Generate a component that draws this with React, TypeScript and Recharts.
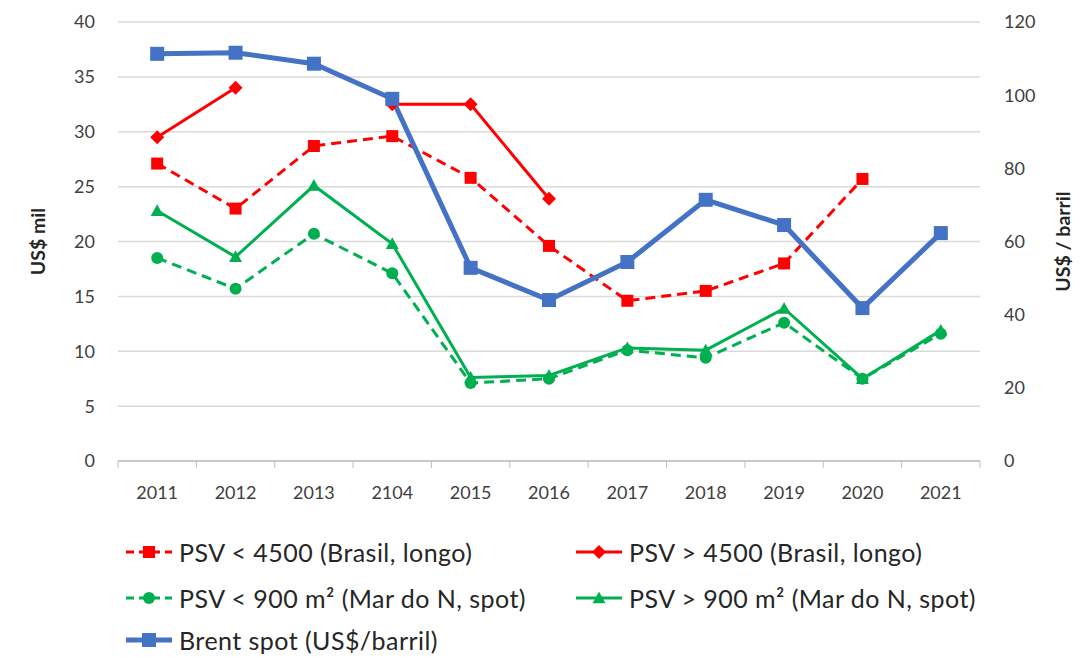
import { LineChart, Line, XAxis, YAxis, CartesianGrid, Legend } from 'recharts';

const years = ['2011', '2012', '2013', '2104', '2015', '2016', '2017', '2018', '2019', '2020', '2021'];
const psvSmallBrasil = [27.1, 23.0, 28.7, 29.6, 25.8, 19.6, 14.6, 15.5, 18.0, 25.7, null];
const psvLargeBrasil = [29.5, 34.0, null, 32.5, 32.5, 23.9, null, null, null, null, null];
const psvSmallNorth = [18.5, 15.7, 20.7, 17.1, 7.1, 7.5, 10.1, 9.4, 12.6, 7.5, 11.6];
const psvLargeNorth = [22.8, 18.6, 25.1, 19.8, 7.6, 7.8, 10.3, 10.1, 13.9, 7.5, 11.9];
const brent = [111.3, 111.6, 108.6, 99.0, 52.8, 44.0, 54.4, 71.4, 64.5, 41.8, 62.3];

const leftTicks = [0, 5, 10, 15, 20, 25, 30, 35, 40];
const rightTicks = [0, 20, 40, 60, 80, 100, 120];

const RED = '#FF0000';
const GREEN = '#00B050';
const BLUE = '#4472C4';
const FONT = 'Lato, "Noto Sans", sans-serif';

const data = years.map((year, i) => ({
  year,
  psvSmallBrasil: psvSmallBrasil[i],
  psvLargeBrasil: psvLargeBrasil[i],
  psvSmallNorth: psvSmallNorth[i],
  psvLargeNorth: psvLargeNorth[i],
  brent: brent[i],
}));

const series = [
  { key: 'psvSmallBrasil', name: 'PSV < 4500 (Brasil, longo)', color: RED, dashed: true, shape: 'square', width: 3, size: 12 },
  { key: 'psvLargeBrasil', name: 'PSV > 4500 (Brasil, longo)', color: RED, dashed: false, shape: 'diamond', width: 3, size: 14 },
  { key: 'psvSmallNorth', name: 'PSV < 900 m² (Mar do N, spot)', color: GREEN, dashed: true, shape: 'circle', width: 3, size: 12 },
  { key: 'psvLargeNorth', name: 'PSV > 900 m² (Mar do N, spot)', color: GREEN, dashed: false, shape: 'triangle', width: 3, size: 13 },
  { key: 'brent', name: 'Brent spot (US$/barril)', color: BLUE, dashed: false, shape: 'square', width: 5, size: 14 },
];

const CHART_W = 1083;
const CHART_H = 658;
const PLOT_LEFT = 118;
const PLOT_RIGHT = 980;
const STEP = (PLOT_RIGHT - PLOT_LEFT) / years.length;

function markerShape(shape: string, cx: number, cy: number, size: number, color: string) {
  const h = size / 2;
  if (shape === 'square') return <rect x={cx - h} y={cy - h} width={size} height={size} fill={color} />;
  if (shape === 'diamond')
    return <polygon points={`${cx},${cy - h} ${cx + h},${cy} ${cx},${cy + h} ${cx - h},${cy}`} fill={color} />;
  if (shape === 'circle') return <circle cx={cx} cy={cy} r={h} fill={color} />;
  return <polygon points={`${cx},${cy - h} ${cx + h},${cy + h * 0.8} ${cx - h},${cy + h * 0.8}`} fill={color} />;
}

const makeDot = (shape: string, size: number, color: string) => (props: any) => {
  const { cx, cy, index, value } = props;
  if (cx == null || cy == null || value == null) return <g key={`e-${index}`} />;
  return <g key={`d-${index}`}>{markerShape(shape, cx, cy, size, color)}</g>;
};

const YearTick = (props: any) => {
  const { x, y, payload, index } = props;
  const edge = x - STEP / 2;
  return (
    <g>
      <line x1={edge} y1={y - 8} x2={edge} y2={y - 1} stroke="#BFBFBF" />
      {index === years.length - 1 && (
        <line x1={x + STEP / 2} y1={y - 8} x2={x + STEP / 2} y2={y - 1} stroke="#BFBFBF" />
      )}
      <text x={x} y={y + 30} textAnchor="middle" fontSize={18} fill="#404040" fontFamily={FONT}>
        {payload.value}
      </text>
    </g>
  );
};

// legend sample: short line, marker, short line (dashed ones look like "-■-")
const LegendIcon = ({ s }: { s: (typeof series)[number] }) => (
  <svg width={52} height={22} style={{ display: 'block' }}>
    <line
      x1={2}
      y1={11}
      x2={48}
      y2={11}
      stroke={s.color}
      strokeWidth={s.width}
      strokeDasharray={s.dashed ? '8 5' : undefined}
    />
    {markerShape(s.shape, 25, 11, s.size, s.color)}
  </svg>
);

const legendPos = [
  { left: 124, top: 20 },
  { left: 574, top: 20 },
  { left: 124, top: 66 },
  { left: 574, top: 66 },
  { left: 124, top: 108 },
];

const renderLegend = () => (
  <div style={{ position: 'relative', height: 130, width: CHART_W }}>
    {series.map((s, i) => (
      <div
        key={s.key}
        style={{
          position: 'absolute',
          left: legendPos[i].left,
          top: legendPos[i].top,
          display: 'flex',
          alignItems: 'center',
          gap: 3,
          fontFamily: FONT,
          fontSize: 25,
          letterSpacing: 0.45,
          color: '#262626',
          whiteSpace: 'nowrap',
          lineHeight: '24px',
        }}
      >
        <LegendIcon s={s} />
        <span>{s.name}</span>
      </div>
    ))}
  </div>
);

const axisLabelStyle = { textAnchor: 'middle', fontSize: 19.5, fontWeight: 700, fill: '#262626', fontFamily: FONT };

export default function App() {
  return (
    <div style={{ width: CHART_W, height: CHART_H, background: '#fff' }}>
      <style>{'body{margin:0}'}</style>
      <LineChart width={CHART_W} height={CHART_H} data={data} margin={{ top: 22, right: 0, left: 0, bottom: 8 }}>
        <CartesianGrid yAxisId="left" vertical={false} stroke="#D9D9D9" strokeWidth={1.5} />
        <XAxis
          dataKey="year"
          height={59}
          stroke="#BFBFBF"
          strokeWidth={1.5}
          tickLine={false}
          tick={<YearTick />}
          interval={0}
          padding={{ left: STEP / 2, right: STEP / 2 }}
        />
        <YAxis
          yAxisId="left"
          width={118}
          domain={[0, 40]}
          ticks={leftTicks}
          axisLine={false}
          tickLine={false}
          tickSize={0}
          tickMargin={23}
          tick={{ fontSize: 18, fill: '#404040', fontFamily: FONT }}
          label={{ value: 'US$ mil', angle: -90, position: 'insideLeft', offset: 38, style: axisLabelStyle }}
        />
        <YAxis
          yAxisId="right"
          orientation="right"
          width={103}
          domain={[0, 120]}
          ticks={rightTicks}
          axisLine={false}
          tickLine={false}
          tickSize={0}
          tickMargin={24}
          tick={{ fontSize: 18, fill: '#404040', fontFamily: FONT }}
          label={{ value: 'US$ / barril', angle: -90, position: 'insideRight', offset: 20, style: axisLabelStyle }}
        />
        <Legend verticalAlign="bottom" content={renderLegend} />
        {series.map((s) => (
          <Line
            key={s.key}
            yAxisId={s.key === 'brent' ? 'right' : 'left'}
            type="linear"
            dataKey={s.key}
            name={s.name}
            stroke={s.color}
            strokeWidth={s.width}
            strokeDasharray={s.dashed ? '10 6' : undefined}
            dot={makeDot(s.shape, s.size, s.color)}
            activeDot={false}
            isAnimationActive={false}
          />
        ))}
      </LineChart>
    </div>
  );
}
